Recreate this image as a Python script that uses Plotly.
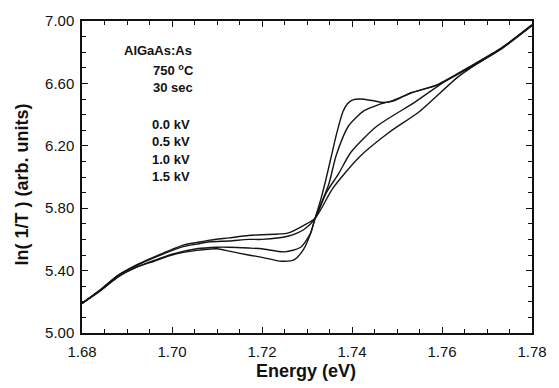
import plotly.graph_objects as go

# ---- data ----
e_00 = [1.680, 1.684, 1.688, 1.692, 1.696, 1.700, 1.7055, 1.710, 1.7127, 1.717, 1.720, 1.7243, 1.7272,
        1.7293, 1.7308, 1.7318, 1.733, 1.734, 1.7353, 1.7366, 1.738, 1.739, 1.7402, 1.742, 1.7445,
        1.747, 1.7495, 1.7516, 1.7532, 1.759, 1.7661, 1.7734, 1.780]
y_00 = [5.19, 5.27, 5.36, 5.42, 5.46, 5.50, 5.53, 5.54, 5.525, 5.50, 5.485, 5.46, 5.47,
        5.54, 5.64, 5.735, 5.85, 5.96, 6.12, 6.28, 6.42, 6.47, 6.495, 6.50, 6.49,
        6.478, 6.49, 6.52, 6.54, 6.592, 6.706, 6.831, 6.975]

e_05 = [1.680, 1.684, 1.688, 1.692, 1.696, 1.700, 1.7055, 1.710, 1.7127, 1.717, 1.720, 1.725,
        1.7286, 1.7308, 1.7318, 1.7348, 1.7365, 1.7393, 1.7427, 1.746, 1.749, 1.7516, 1.7532,
        1.759, 1.7661, 1.7734, 1.780]
y_05 = [5.19, 5.27, 5.36, 5.42, 5.465, 5.505, 5.54, 5.55, 5.55, 5.545, 5.54, 5.52,
        5.55, 5.64, 5.735, 5.95, 6.14, 6.33, 6.425, 6.465, 6.49, 6.52, 6.54,
        6.59, 6.705, 6.83, 6.975]

e_10 = [1.680, 1.684, 1.688, 1.692, 1.6954, 1.7027, 1.7055, 1.7084, 1.7127, 1.717, 1.720, 1.7257,
        1.7294, 1.7318, 1.7343, 1.737, 1.7398, 1.7455, 1.754, 1.7605, 1.7661, 1.7734, 1.780]
y_10 = [5.19, 5.275, 5.37, 5.43, 5.475, 5.555, 5.57, 5.585, 5.59, 5.60, 5.60, 5.62,
        5.665, 5.735, 5.90, 6.02, 6.16, 6.325, 6.48, 6.61, 6.70, 6.828, 6.972]

e_15 = [1.680, 1.684, 1.688, 1.692, 1.6954, 1.7027, 1.7055, 1.7084, 1.7127, 1.717, 1.720, 1.7257,
        1.7293, 1.7318, 1.7358, 1.7417, 1.7482, 1.755, 1.7635, 1.7675, 1.7734, 1.780]
y_15 = [5.19, 5.275, 5.37, 5.435, 5.48, 5.565, 5.58, 5.595, 5.61, 5.625, 5.63, 5.64,
        5.69, 5.735, 5.93, 6.13, 6.285, 6.42, 6.64, 6.72, 6.825, 6.97]

series = [(e_00, y_00), (e_05, y_05), (e_10, y_10), (e_15, y_15)]

x_ticks = [1.68, 1.70, 1.72, 1.74, 1.76, 1.78]
y_ticks = [5.00, 5.40, 5.80, 6.20, 6.60, 7.00]

legend_lines = ["AlGaAs:As", "750 <sup>o</sup>C", "30 sec", "0.0 kV", "0.5 kV", "1.0 kV", "1.5 kV"]

fig = go.Figure()
for ex, ey in series:
    fig.add_trace(go.Scatter(x=ex, y=ey, mode="lines",
                             line=dict(color="#151515", width=1.4, shape="spline", smoothing=0.7),
                             showlegend=False, hoverinfo="skip"))

font_ticks = dict(family="Liberation Sans, Arial, sans-serif", size=15, color="#111")
axis_common = dict(showline=True, linecolor="#111", linewidth=1.5, mirror="allticks",
                   ticks="inside", ticklen=6, tickwidth=1.2, tickcolor="#111",
                   showgrid=False, zeroline=False, tickfont=font_ticks)

fig.update_xaxes(range=[1.68, 1.78], tickvals=x_ticks,
                 ticktext=[f"{v:.2f}" for v in x_ticks], ticklabelstandoff=4,
                 minor=dict(dtick=0.005, tick0=1.68, ticks="inside", ticklen=4, tickwidth=1, tickcolor="#111"),
                 **axis_common)
fig.update_yaxes(range=[5.0, 7.0], tickvals=y_ticks,
                 ticktext=[f"{v:.2f}" for v in y_ticks], ticklabelstandoff=3,
                 minor=dict(dtick=0.1, tick0=5.0, ticks="inside", ticklen=4, tickwidth=1, tickcolor="#111"),
                 **axis_common)

# text block
tx = [123, 153, 153, 152, 152, 152, 152]
ty = [43, 63, 81, 119, 137, 155, 172]
for s, px, py in zip(legend_lines, tx, ty):
    fig.add_annotation(text=f"<b>{s}</b>", xref="paper", yref="paper",
                       x=(px - 82) / 462, y=(333 - py) / 320,
                       xanchor="left", yanchor="middle", showarrow=False,
                       font=dict(family="Liberation Sans, Arial, sans-serif", size=13, color="#111"))

# axis titles
fig.add_annotation(text="<b>Energy (eV)</b>", xref="paper", yref="paper",
                   x=(312 - 82) / 462, y=(333 - 372) / 320, xanchor="center", yanchor="middle",
                   showarrow=False, font=dict(family="Liberation Sans, Arial, sans-serif", size=18, color="#111"))
fig.add_annotation(text="<b>ln( 1/T ) (arb. units)</b>", xref="paper", yref="paper",
                   x=(20 - 82) / 462, y=(333 - 181) / 320, xanchor="center", yanchor="middle",
                   textangle=-90, showarrow=False,
                   font=dict(family="Liberation Sans, Arial, sans-serif", size=18, color="#111"))

fig.update_layout(width=559, height=388, margin=dict(l=82, r=15, t=13, b=55),
                  paper_bgcolor="white", plot_bgcolor="white")

fig.write_html("out.html")
